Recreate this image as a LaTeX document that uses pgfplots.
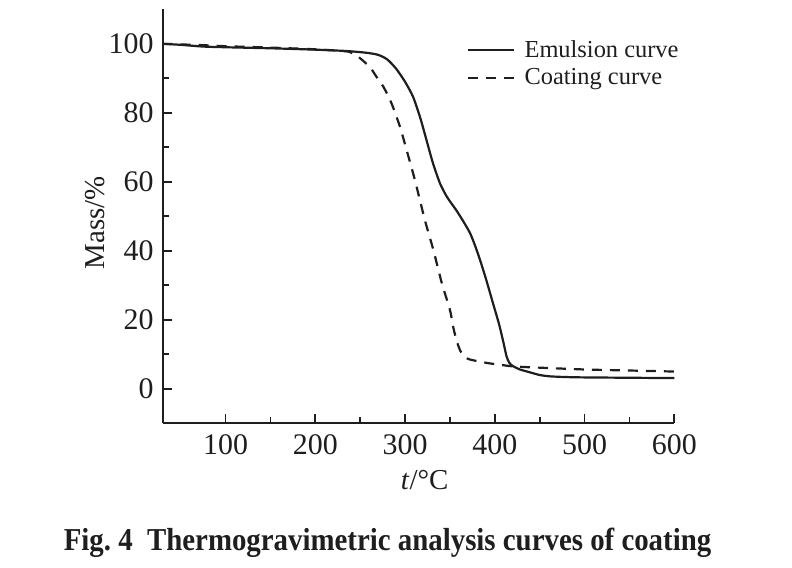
\documentclass[border=0pt]{standalone}
\usepackage{fontspec}
\setmainfont{Liberation Serif}
\usepackage{graphicx}
\usepackage{pgfplots}
\pgfplotsset{compat=1.18}
\definecolor{ink}{RGB}{30,30,30}
\begin{document}
\begin{tikzpicture}
\useasboundingbox (0,0) rectangle (792bp,568bp);
\begin{axis}[
  at={(162.7bp,144.7bp)}, anchor=south west,
  scale only axis, width=511.6bp, height=414bp,
  xmin=30, xmax=600, ymin=-10, ymax=110,
  axis x line=bottom, axis y line=left,
  axis line style={-, line width=2bp, ink},
  xtick={100,200,...,600}, minor xtick={150,250,...,550},
  ytick={0,20,...,100}, minor ytick={10,30,...,90},
  tick align=inside,
  major tick length=9bp, minor tick length=6bp,
  tick style={line width=1.8bp, ink},
  /pgf/number format/assume math mode=true,
  tick label style={font=\fontsize{30}{32}\selectfont, text=ink, inner sep=0pt},
  xticklabel style={anchor=north, yshift=-11bp},
  yticklabel style={anchor=east, xshift=-9bp},
  xlabel={\textit{t}/°C}, ylabel={Mass/\%},
  label style={font=\fontsize{29}{31}\selectfont, text=ink, inner sep=0pt},
  xlabel style={at={(axis description cs:0.512,-0.1135)}, anchor=north},
  ylabel style={at={(axis description cs:-0.1128,0.485)}, anchor=south},
  legend style={at={(0.5942,0.925)}, anchor=north west, draw=none, fill=none,
    inner sep=0pt, outer sep=0pt, row sep=9.4bp, column sep=9.7bp,
    font=\fontsize{24.5}{26}\selectfont, text=ink,
    nodes={inner sep=0pt, text depth=0.2em}},
  legend cell align=left,
  legend image code/.code={\draw[#1] (0bp,0bp) -- (46bp,0bp);},
]
\addplot[ink, line width=2.2bp, smooth, tension=0.4] coordinates {
(30,100) (50,99.7) (75,99.2) (100,99.0) (150,98.7) (200,98.3) (235,97.9)
(257,97.4) (270,96.8) (280,95.5) (290,92.8) (300,89) (309,84.6) (317,78.5)
(324,72) (331,65.5) (339,59.5) (347,55.5) (357,51.8) (365,48.5) (372.5,45.1)
(378,41.5) (383.5,37.4) (390,32) (395,27.5) (400,23) (405,18.5) (410,13)
(413,9.5) (416,7.6) (420,6.6) (428,5.6) (436,5.0) (450,4.0) (462,3.6)
(480,3.4) (500,3.3) (550,3.2) (600,3.1)};
\addlegendentry{Emulsion curve}
\addplot[ink, line width=2.2bp, dash pattern=on 10bp off 8bp, smooth, tension=0.4] coordinates {
(30,100) (75,99.6) (100,99.3) (150,98.9) (200,98.4) (235,97.8) (242,97.1)
(250,95.8) (261,93.2) (268,90.5) (276,87.5) (285,82.7) (294.4,75.9)
(303.6,67.5) (311,60.5) (322,49) (331.5,40.3) (341,30.6) (350,22.9)
(354,17.5) (358,13.5) (362,10.8) (367,9.2) (372,8.5) (391,7.5) (402,7.1)
(420,6.5) (443,6.2) (500,5.6) (550,5.3) (600,5.0)};
\addlegendentry{Coating curve}
\end{axis}
\node[font=\bfseries\fontsize{32}{34}\selectfont, text=ink, anchor=base, inner sep=0pt]
  at (387.5bp,18bp) {\scalebox{0.905}[1]{Fig.\ 4\ \ Thermogravimetric analysis curves of coating}};
\end{tikzpicture}
\end{document}
